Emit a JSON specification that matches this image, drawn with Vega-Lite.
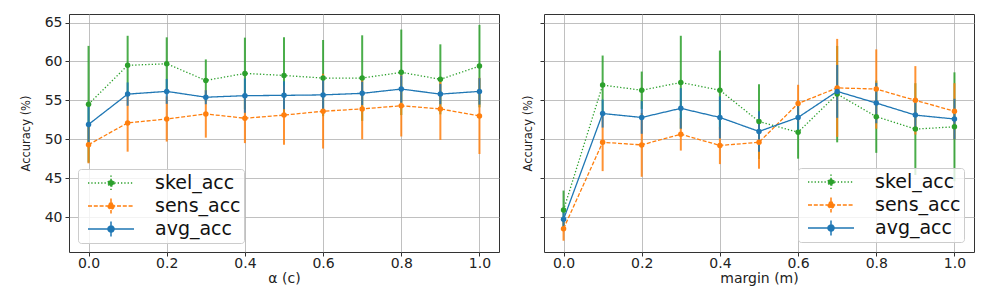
{
  "$schema": "https://vega.github.io/schema/vega-lite/v6.json",
  "background": "white",
  "padding": {"left": 19, "top": 13, "right": 18, "bottom": 0},
  "spacing": 45,
  "bounds": "flush",
  "datasets": {
    "left": [
      {"x": 0.0, "series": "skel_acc", "acc": 54.5, "err": 7.5},
      {"x": 0.1, "series": "skel_acc", "acc": 59.5, "err": 3.8},
      {"x": 0.2, "series": "skel_acc", "acc": 59.7, "err": 3.4},
      {"x": 0.3, "series": "skel_acc", "acc": 57.56, "err": 2.7},
      {"x": 0.4, "series": "skel_acc", "acc": 58.46, "err": 4.6},
      {"x": 0.5, "series": "skel_acc", "acc": 58.2, "err": 4.9},
      {"x": 0.6, "series": "skel_acc", "acc": 57.86, "err": 4.9},
      {"x": 0.7, "series": "skel_acc", "acc": 57.86, "err": 5.5},
      {"x": 0.8, "series": "skel_acc", "acc": 58.6, "err": 5.5},
      {"x": 0.9, "series": "skel_acc", "acc": 57.7, "err": 4.5},
      {"x": 1.0, "series": "skel_acc", "acc": 59.4, "err": 5.3},
      {"x": 0.0, "series": "sens_acc", "acc": 49.3, "err": 2.4},
      {"x": 0.1, "series": "sens_acc", "acc": 52.1, "err": 3.7},
      {"x": 0.2, "series": "sens_acc", "acc": 52.6, "err": 2.9},
      {"x": 0.3, "series": "sens_acc", "acc": 53.25, "err": 3.05},
      {"x": 0.4, "series": "sens_acc", "acc": 52.7, "err": 3.2},
      {"x": 0.5, "series": "sens_acc", "acc": 53.1, "err": 3.8},
      {"x": 0.6, "series": "sens_acc", "acc": 53.6, "err": 4.8},
      {"x": 0.7, "series": "sens_acc", "acc": 53.9, "err": 3.9},
      {"x": 0.8, "series": "sens_acc", "acc": 54.3, "err": 3.95},
      {"x": 0.9, "series": "sens_acc", "acc": 53.9, "err": 4.0},
      {"x": 1.0, "series": "sens_acc", "acc": 53.0, "err": 4.9},
      {"x": 0.0, "series": "avg_acc", "acc": 51.9, "err": 2.8},
      {"x": 0.1, "series": "avg_acc", "acc": 55.8, "err": 1.5},
      {"x": 0.2, "series": "avg_acc", "acc": 56.15, "err": 1.6},
      {"x": 0.3, "series": "avg_acc", "acc": 55.4, "err": 0.9},
      {"x": 0.4, "series": "avg_acc", "acc": 55.6, "err": 2.2},
      {"x": 0.5, "series": "avg_acc", "acc": 55.64, "err": 1.8},
      {"x": 0.6, "series": "avg_acc", "acc": 55.7, "err": 2.3},
      {"x": 0.7, "series": "avg_acc", "acc": 55.9, "err": 1.5},
      {"x": 0.8, "series": "avg_acc", "acc": 56.45, "err": 1.75},
      {"x": 0.9, "series": "avg_acc", "acc": 55.8, "err": 1.3},
      {"x": 1.0, "series": "avg_acc", "acc": 56.15, "err": 1.7}
    ],
    "right": [
      {"x": 0.0, "series": "skel_acc", "acc": 40.9, "err": 2.5},
      {"x": 0.1, "series": "skel_acc", "acc": 56.96, "err": 3.8},
      {"x": 0.2, "series": "skel_acc", "acc": 56.3, "err": 2.4},
      {"x": 0.3, "series": "skel_acc", "acc": 57.3, "err": 6.0},
      {"x": 0.4, "series": "skel_acc", "acc": 56.3, "err": 5.1},
      {"x": 0.5, "series": "skel_acc", "acc": 52.27, "err": 4.8},
      {"x": 0.6, "series": "skel_acc", "acc": 50.9, "err": 3.4},
      {"x": 0.7, "series": "skel_acc", "acc": 55.8, "err": 6.2},
      {"x": 0.8, "series": "skel_acc", "acc": 52.9, "err": 4.65},
      {"x": 0.9, "series": "skel_acc", "acc": 51.3, "err": 5.9},
      {"x": 1.0, "series": "skel_acc", "acc": 51.6, "err": 7.0},
      {"x": 0.0, "series": "sens_acc", "acc": 38.5, "err": 1.55},
      {"x": 0.1, "series": "sens_acc", "acc": 49.6, "err": 3.7},
      {"x": 0.2, "series": "sens_acc", "acc": 49.27, "err": 4.1},
      {"x": 0.3, "series": "sens_acc", "acc": 50.64, "err": 2.1},
      {"x": 0.4, "series": "sens_acc", "acc": 49.2, "err": 2.4},
      {"x": 0.5, "series": "sens_acc", "acc": 49.6, "err": 3.4},
      {"x": 0.6, "series": "sens_acc", "acc": 54.6, "err": 2.4},
      {"x": 0.7, "series": "sens_acc", "acc": 56.6, "err": 6.3},
      {"x": 0.8, "series": "sens_acc", "acc": 56.45, "err": 5.1},
      {"x": 0.9, "series": "sens_acc", "acc": 55.0, "err": 4.4},
      {"x": 1.0, "series": "sens_acc", "acc": 53.6, "err": 3.6},
      {"x": 0.0, "series": "avg_acc", "acc": 39.7, "err": 1.4},
      {"x": 0.1, "series": "avg_acc", "acc": 53.3, "err": 1.8},
      {"x": 0.2, "series": "avg_acc", "acc": 52.8, "err": 2.1},
      {"x": 0.3, "series": "avg_acc", "acc": 53.97, "err": 2.6},
      {"x": 0.4, "series": "avg_acc", "acc": 52.8, "err": 2.7},
      {"x": 0.5, "series": "avg_acc", "acc": 51.0, "err": 2.6},
      {"x": 0.6, "series": "avg_acc", "acc": 52.8, "err": 2.1},
      {"x": 0.7, "series": "avg_acc", "acc": 56.15, "err": 3.4},
      {"x": 0.8, "series": "avg_acc", "acc": 54.65, "err": 2.6},
      {"x": 0.9, "series": "avg_acc", "acc": 53.1, "err": 1.8},
      {"x": 1.0, "series": "avg_acc", "acc": 52.6, "err": 2.6}
    ]
  },
  "hconcat": [
    {
      "width": 430,
      "height": 238,
      "data": {"name": "left"},
      "encoding": {
        "x": {"field": "x", "type": "quantitative", "scale": {"domain": [-0.05, 1.05], "nice": false, "zero": false},
              "axis": {"title": "α (c)", "values": [0, 0.2, 0.4, 0.6, 0.8, 1.0], "format": ".1f"}},
        "color": {"field": "series", "type": "nominal", "sort": ["skel_acc", "sens_acc", "avg_acc"],
                  "scale": {"domain": ["skel_acc", "sens_acc", "avg_acc"], "range": ["#2ca02c", "#ff7f0e", "#1f77b4"]},
                  "legend": {"orient": "bottom-left", "offset": 9}}
      },
      "layer": [
        {"mark": {"type": "errorbar", "thickness": 2, "opacity": 0.85},
         "encoding": {"y": {"field": "acc", "type": "quantitative", "scale": {"domain": [35.5, 66.1], "nice": false, "zero": false},
                            "axis": {"title": "Accuracy (%)", "values": [40, 45, 50, 55, 60, 65], "titlePadding": 13}},
                      "yError": {"field": "err"}}},
        {"mark": {"type": "line", "strokeWidth": 1.3},
         "encoding": {"y": {"field": "acc", "type": "quantitative"},
                      "strokeDash": {"field": "series", "type": "nominal", "sort": ["skel_acc", "sens_acc", "avg_acc"], "scale": {"domain": ["skel_acc", "sens_acc", "avg_acc"], "range": [[1.3, 2], [4, 1.8], [1, 0]]},
                                     "legend": {"orient": "bottom-left", "offset": 9}}}},
        {"mark": {"type": "point", "filled": true, "size": 30, "opacity": 1},
         "encoding": {"y": {"field": "acc", "type": "quantitative"}}}
      ]
    },
    {
      "width": 430,
      "height": 238,
      "data": {"name": "right"},
      "encoding": {
        "x": {"field": "x", "type": "quantitative", "scale": {"domain": [-0.05, 1.05], "nice": false, "zero": false},
              "axis": {"title": "margin (m)", "values": [0, 0.2, 0.4, 0.6, 0.8, 1.0], "format": ".1f"}},
        "color": {"field": "series", "type": "nominal", "sort": ["skel_acc", "sens_acc", "avg_acc"],
                  "scale": {"domain": ["skel_acc", "sens_acc", "avg_acc"], "range": ["#2ca02c", "#ff7f0e", "#1f77b4"]},
                  "legend": {"orient": "bottom-right", "offset": 10}}
      },
      "layer": [
        {"mark": {"type": "errorbar", "thickness": 2, "opacity": 0.85},
         "encoding": {"y": {"field": "acc", "type": "quantitative", "scale": {"domain": [35.5, 66.1], "nice": false, "zero": false},
                            "axis": {"title": "Accuracy (%)", "values": [40, 45, 50, 55, 60, 65], "labels": false, "titlePadding": 6}},
                      "yError": {"field": "err"}}},
        {"mark": {"type": "line", "strokeWidth": 1.3},
         "encoding": {"y": {"field": "acc", "type": "quantitative"},
                      "strokeDash": {"field": "series", "type": "nominal", "sort": ["skel_acc", "sens_acc", "avg_acc"], "scale": {"domain": ["skel_acc", "sens_acc", "avg_acc"], "range": [[1.3, 2], [4, 1.8], [1, 0]]},
                                     "legend": {"orient": "bottom-right", "offset": 10}}}},
        {"mark": {"type": "point", "filled": true, "size": 30, "opacity": 1},
         "encoding": {"y": {"field": "acc", "type": "quantitative"}}}
      ]
    }
  ],
  "resolve": {"legend": {"color": "independent", "strokeDash": "independent"}},
  "config": {
    "font": "DejaVu Sans",
    "view": {"stroke": "#333333", "strokeWidth": 1},
    "axis": {
      "domain": false,
      "grid": true,
      "gridColor": "#b0b0b0",
      "gridWidth": 0.8,
      "tickColor": "#333333",
      "tickSize": 4,
      "labelFont": "DejaVu Sans",
      "labelFontSize": 14,
      "labelColor": "#222222",
      "labelPadding": 3,
      "titleFont": "DejaVu Sans",
      "titleFontWeight": "normal",
      "titleColor": "#222222"
    },
    "axisY": {"titleFontSize": 11.5},
    "axisX": {"titlePadding": 1, "titleFontSize": 14, "labelPadding": 0},
    "legend": {
      "title": null,
      "fillColor": "rgba(255,255,255,0.8)",
      "strokeColor": "#cccccc",
      "cornerRadius": 3,
      "padding": 3,
      "symbolType": "M-0.4,0H4.2M1.9,-0.75V0.75M2.2,0A0.3,0.3 0 1 1 1.6,0A0.3,0.3 0 1 1 2.2,0Z",
      "symbolSize": 400,
      "symbolStrokeWidth": 1.5,
      "symbolOpacity": 1,
      "labelFont": "DejaVu Sans",
      "labelFontSize": 19,
      "labelColor": "#111111",
      "labelOffset": 52,
      "rowPadding": 1
    }
  }
}
